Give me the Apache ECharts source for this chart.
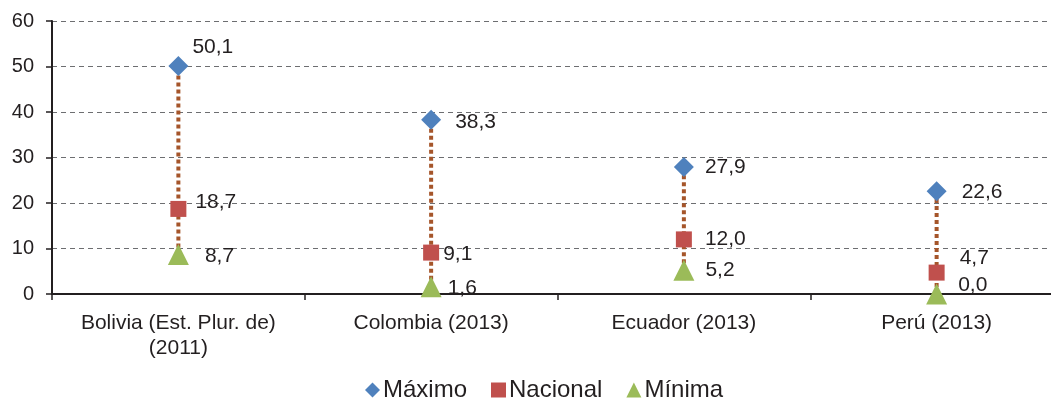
<!DOCTYPE html>
<html>
<head>
<meta charset="utf-8">
<script src="https://cdn.jsdelivr.net/npm/echarts@6/dist/echarts.min.js"></script>
<style>
html,body{margin:0;padding:0;background:#fff;}
#chart{width:1051px;height:400px;}
</style>
</head>
<body>
<div id="chart"></div>
<script>
var categories = ['Bolivia (Est. Plur. de)\n(2011)', 'Colombia (2013)', 'Ecuador (2013)', 'Perú (2013)'];
var maximo = [50.1, 38.3, 27.9, 22.6];
var nacional = [18.7, 9.1, 12.0, 4.7];
var minima = [8.7, 1.6, 5.2, 0.0];
var yTicks = [0, 10, 20, 30, 40, 50, 60];

// label layout (pixel nudges only)
var offMax = [[4, -19], [14, 2], [11, 0], [15, 1]];
var offNac = [[9, -7], [4, 2], [13, 0], [15, -14]];
var offMin = [[16, 2], [6, 1], [11, 0], [11, -9]];

function fmt(v) { return v.toFixed(1).replace('.', ','); }
function withLabels(vals, offs) {
  return vals.map(function (v, i) {
    return { value: [i, v], label: { offset: offs[i] } };
  });
}

var chart = echarts.init(document.getElementById('chart'));
var font = 'Liberation Sans, Arial, sans-serif';
var labelBase = {
  show: true, position: 'right', distance: 0,
  color: '#231f20', fontSize: 21, fontFamily: font,
  formatter: function (p) { return fmt(p.value[1]); }
};

chart.setOption({
  animation: false,
  textStyle: { fontFamily: font },
  legend: {
    top: 373, left: 360,
    itemWidth: 15, itemHeight: 15, itemGap: 24,
    textStyle: { fontSize: 24, color: '#231f20', fontFamily: font, padding: [0, 0, 0, -2] },
    data: [
      { name: 'Máximo', icon: 'diamond' },
      { name: 'Nacional', icon: 'rect' },
      { name: 'Mínima', icon: 'triangle' }
    ]
  },
  grid: { left: 52, top: 21, height: 273, width: 1011, containLabel: false, outerBoundsMode: 'none' },
  xAxis: {
    type: 'category', data: categories, boundaryGap: true,
    axisLine: { lineStyle: { color: '#231f20', width: 2 } },
    axisTick: { show: true, length: 6, lineStyle: { color: '#231f20', width: 1.5 } },
    axisLabel: { fontSize: 21, color: '#231f20', fontFamily: font, margin: 17, lineHeight: 25, interval: 0 }
  },
  yAxis: {
    type: 'value', min: 0, max: 60, interval: 10,
    axisLine: { show: true, lineStyle: { color: '#231f20', width: 2 } },
    axisTick: { show: true, length: 6, lineStyle: { color: '#231f20', width: 1.5 } },
    axisLabel: { fontSize: 20, color: '#231f20', fontFamily: font, margin: 18,
      formatter: function (v) { return yTicks.indexOf(v) >= 0 ? String(v) : ''; } },
    splitLine: { show: true, lineStyle: { color: '#6d6e71', type: [5, 4], width: 1 } }
  },
  series: [
    {
      type: 'custom', name: 'rango', silent: true, z: 1,
      data: maximo.map(function (v, i) { return [i, minima[i], v]; }),
      renderItem: function (params, api) {
        var p1 = api.coord([api.value(0), api.value(1)]);
        var p2 = api.coord([api.value(0), api.value(2)]);
        return {
          type: 'line',
          shape: { x1: p1[0], y1: p1[1], x2: p2[0], y2: p2[1] },
          style: { stroke: '#a5552a', lineWidth: 4, lineDash: [4, 3], fill: null }
        };
      }
    },
    {
      type: 'scatter', name: 'Máximo', symbol: 'diamond', symbolSize: 20, z: 3,
      itemStyle: { color: '#4f81bd', opacity: 1 }, label: labelBase,
      data: withLabels(maximo, offMax)
    },
    {
      type: 'scatter', name: 'Nacional', symbol: 'rect', symbolSize: 16, z: 3,
      itemStyle: { color: '#c0504d', opacity: 1 }, label: labelBase,
      data: withLabels(nacional, offNac)
    },
    {
      type: 'scatter', name: 'Mínima', symbol: 'triangle', symbolSize: 21, z: 3,
      itemStyle: { color: '#9bbb59', opacity: 1 }, label: labelBase,
      data: withLabels(minima, offMin)
    }
  ]
});
</script>
</body>
</html>
